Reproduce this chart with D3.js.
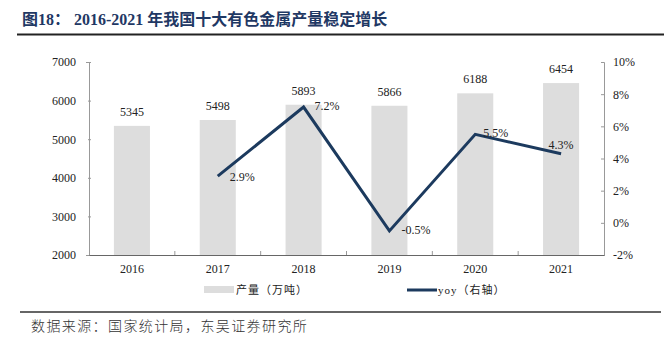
<!DOCTYPE html>
<html><head><meta charset="utf-8">
<script src="https://cdn.jsdelivr.net/npm/d3@7"></script>
<style>body{margin:0;background:#fff}</style>
</head><body>
<svg id="c" width="665" height="346"></svg>
<script>
const years = ["2016","2017","2018","2019","2020","2021"];
const output = [5345,5498,5893,5866,6188,6454];
const yoy = [null,2.9,7.2,-0.5,5.5,4.3];
const leftTicks = [2000,3000,4000,5000,6000,7000];
const rightTicks = [-2,0,2,4,6,8,10];

const svg = d3.select("#c");
const serif = "'Liberation Serif','Times New Roman',serif";
const cjk = "'Noto Sans CJK SC',sans-serif";
const navy = "#1c3a5e";

// title
svg.append("text").attr("x",22).attr("y",25).attr("fill","#1f3864")
  .attr("font-family",serif+","+cjk).attr("font-weight","bold").attr("font-size",16)
  .attr("xml:space","preserve").style("white-space","pre")
  .text("图18： 2016-2021 年我国十大有色金属产量稳定增长");
svg.append("line").attr("x1",17).attr("x2",664).attr("y1",34.5).attr("y2",34.5).attr("stroke","#222").attr("stroke-width",2);

const L=89, R=604, T=62, B=255;
const x = d3.scaleBand().domain(years).range([L,R]).paddingInner(0.58).paddingOuter(0.29);
const y = d3.scaleLinear().domain([2000,7000]).range([B,T]);
const y2 = d3.scaleLinear().domain([-2,10]).range([B,T]);

// bars
svg.append("g").selectAll("rect").data(years).join("rect")
  .attr("x",d=>x(d)).attr("width",x.bandwidth())
  .attr("y",(d,i)=>y(output[i])).attr("height",(d,i)=>B-y(output[i]))
  .attr("fill","#dddddd");
svg.append("g").selectAll("text").data(years).join("text")
  .attr("x",d=>x(d)+x.bandwidth()/2).attr("y",(d,i)=>y(output[i])-10)
  .attr("text-anchor","middle").attr("font-family",serif).attr("font-size",12).attr("fill","#222")
  .text((d,i)=>output[i]);

// axes
const gl = svg.append("g").attr("transform",`translate(${L},0)`)
  .call(d3.axisLeft(y).tickValues(leftTicks).tickSize(3).tickPadding(10).tickFormat(d3.format("d")));
const gr = svg.append("g").attr("transform",`translate(${R},0)`)
  .call(d3.axisRight(y2).tickValues(rightTicks).tickSize(-3).tickPadding(9).tickFormat(d=>d+"%"));
[gl,gr].forEach(g=>{
  g.select(".domain").attr("stroke","#999");
  g.selectAll(".tick line").attr("stroke","#999");
  g.selectAll("text").attr("font-family",serif).attr("font-size",12).attr("fill","#222");
});
gr.selectAll(".tick text").attr("x",9);
gl.selectAll(".tick line").attr("x1",-1).attr("x2",2);

// x axis
const gx = svg.append("g").attr("transform",`translate(0,${B})`)
  .call(d3.axisBottom(x).tickSize(0).tickPadding(9));
gx.select(".domain").attr("stroke","#666");
gx.selectAll("text").attr("font-family",serif).attr("font-size",12).attr("fill","#222");
const step = x.step();
svg.append("g").selectAll("line").data(years.slice(1)).join("line")
  .attr("x1",d=>x(d)-x.paddingInner()*step/2).attr("x2",d=>x(d)-x.paddingInner()*step/2)
  .attr("y1",B-4).attr("y2",B).attr("stroke","#999");

// line
const pts = years.map((d,i)=>({d,v:yoy[i]})).filter(p=>p.v!==null);
const cx = d=>x(d)+x.bandwidth()/2;
svg.append("path").datum(pts)
  .attr("d",d3.line().x(p=>cx(p.d)).y(p=>y2(p.v)))
  .attr("fill","none").attr("stroke",navy).attr("stroke-width",3).attr("stroke-linejoin","miter");
const offs = {"2017":[12,2,"start"],"2018":[11,0,"start"],"2019":[12,0,"start"],"2020":[8,0,"start"],"2021":[0,-7,"middle"]};
svg.append("g").selectAll("text").data(pts).join("text")
  .attr("x",p=>cx(p.d)+offs[p.d][0]).attr("y",p=>y2(p.v)+offs[p.d][1])
  .attr("text-anchor",p=>offs[p.d][2]).attr("dominant-baseline","middle")
  .attr("font-family",serif).attr("font-size",12).attr("fill","#222")
  .text(p=>p.v.toFixed(1)+"%");

// legend
svg.append("rect").attr("x",204).attr("y",286).attr("width",30).attr("height",7).attr("fill","#dddddd");
svg.append("text").attr("x",236).attr("y",294).attr("font-family",serif+","+cjk).attr("font-size",11).attr("letter-spacing",1).attr("fill","#222").text("产量（万吨）");
svg.append("line").attr("x1",407).attr("x2",437).attr("y1",290).attr("y2",290).attr("stroke",navy).attr("stroke-width",3);
svg.append("text").attr("x",438).attr("y",294).attr("font-family",serif+","+cjk).attr("font-size",11).attr("letter-spacing",1).attr("fill","#222").text("yoy（右轴）");

// footer
svg.append("line").attr("x1",20).attr("x2",661).attr("y1",312).attr("y2",312).attr("stroke","#333").attr("stroke-width",1.5);
svg.append("text").attr("x",31).attr("y",331).attr("font-family",cjk).attr("font-size",14).attr("font-weight",300).attr("letter-spacing",1.4).attr("fill","#333").text("数据来源：国家统计局，东吴证券研究所");
</script>
</body></html>
